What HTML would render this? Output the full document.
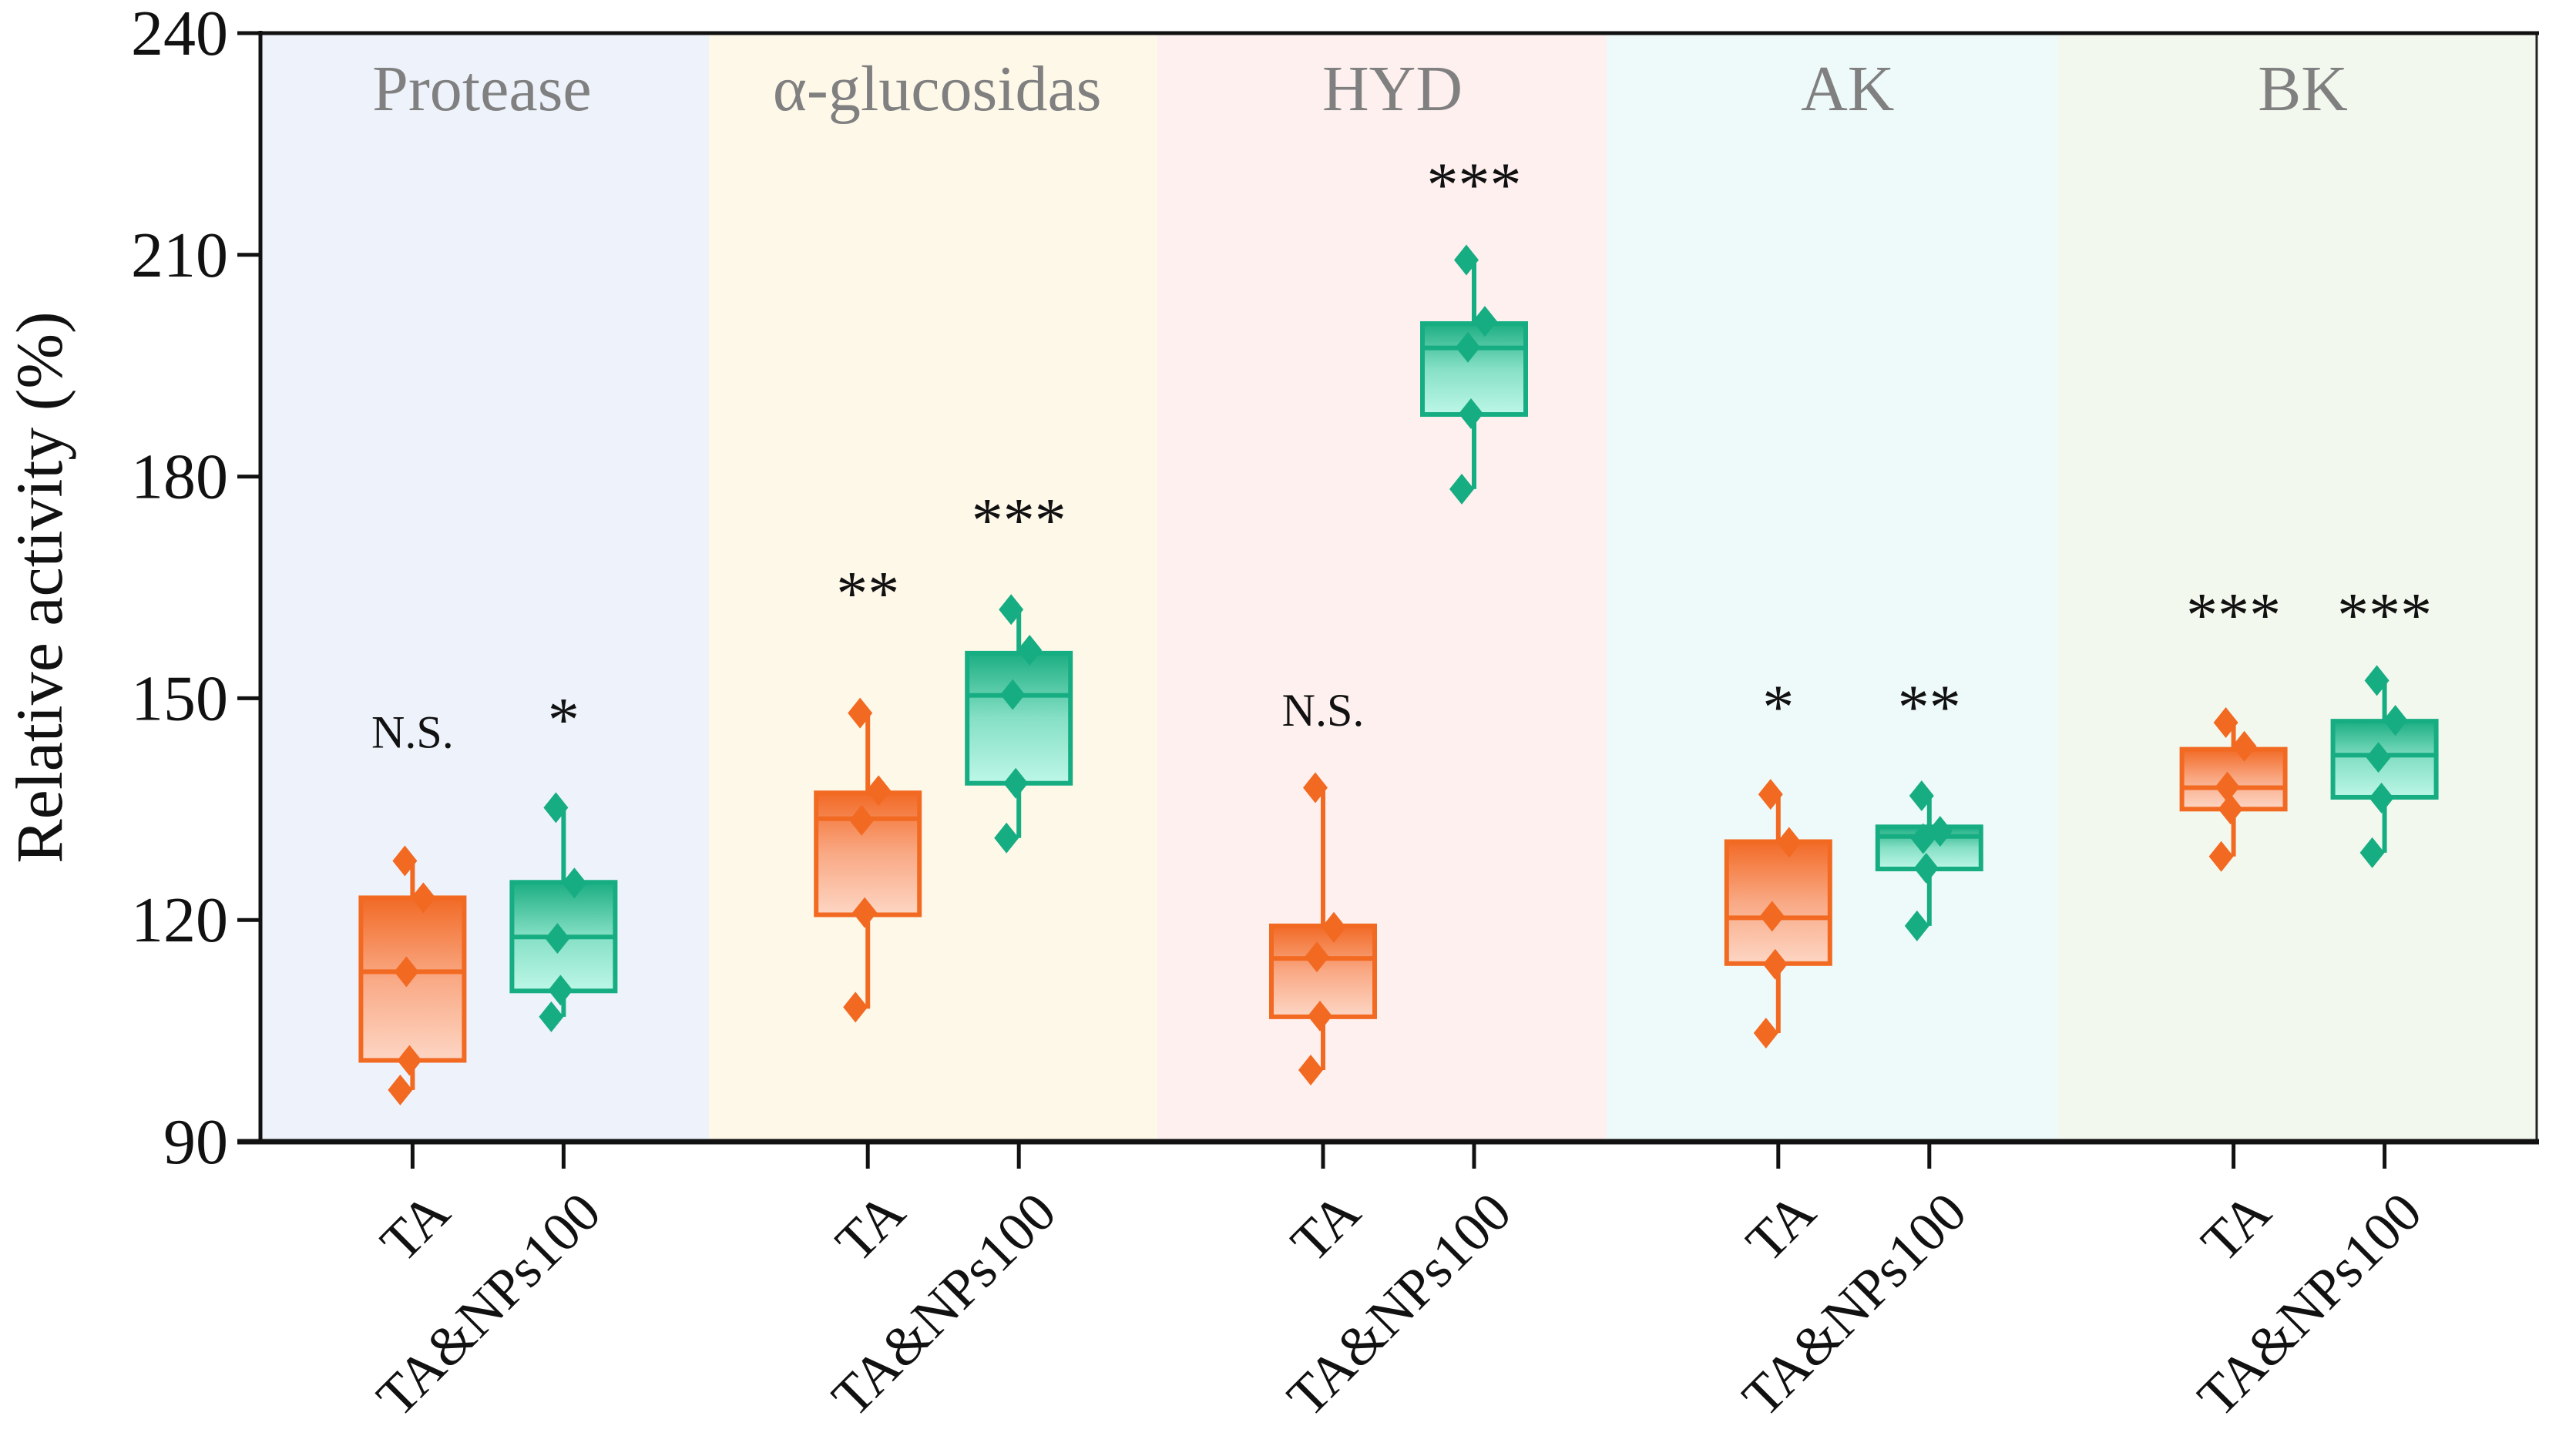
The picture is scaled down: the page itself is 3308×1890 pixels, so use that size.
<!DOCTYPE html>
<html><head><meta charset="utf-8"><style>
html,body{margin:0;padding:0;background:#fff;}
svg{display:block;}
text{font-family:"Liberation Serif","DejaVu Serif",serif;}
</style></head>
<body>
<svg id="chart" width="3308" height="1890" viewBox="0 0 3308 1890" xmlns="http://www.w3.org/2000/svg">
<defs>
<linearGradient id="gOr" x1="0" y1="0" x2="0" y2="1"><stop offset="0" stop-color="#f26a26"/><stop offset="0.5" stop-color="#f9a985"/><stop offset="1" stop-color="#fdd6c4"/></linearGradient>
<linearGradient id="gGr" x1="0" y1="0" x2="0" y2="1"><stop offset="0" stop-color="#1cae82"/><stop offset="0.5" stop-color="#86e0c5"/><stop offset="1" stop-color="#bdf7e7"/></linearGradient>
</defs>
<g id="bands"></g>
<g id="marks"></g>
<g id="axes"></g>
</svg>
<script>
const categories = ["Protease","α-glucosidas","HYD","AK","BK"];
const groups = ["TA","TA&NPs100"];
// [whiskerLow, q1, median, q3, whiskerHigh] per category
const taBox = [[97,101,113,123,128],[108,120.7,133.7,137.2,148],[99.7,106.9,114.8,119.2,138],[104.7,114.1,120.3,130.6,137],[128.6,135,137.9,143.1,146.7]];
const npBox = [[106.9,110.4,117.7,125.1,135.2],[131.1,138.5,150.4,156.1,162],[178.3,188.4,197.4,200.7,209.3],[119.2,126.9,131.3,132.6,136.8],[129.1,136.6,142.3,146.9,152.4]];
const taPts = [[128,123,113,101,97],[148,137.5,133.5,121,108.2],[137.9,119,115,107,99.7],[137,130.5,120.5,114,104.7],[146.7,143.5,138,135,128.6]];
const npPts = [[135.2,125,117.5,110.5,106.9],[162,156.5,150.5,138.5,131.1],[209.3,201,197.5,188.5,178.3],[136.8,132,131,127,119.2],[152.4,147,142,136.5,129.1]];
const taSig = ["N.S.","**","N.S.","*","***"];
const npSig = ["*","***","***","**","***"];
const taSigY = [145.6,164.9,148.6,149.5,162];
const npSigY = [147.8,174.8,220.2,149.5,162];
const yTicks = [90,120,150,180,210,240];

const NS="http://www.w3.org/2000/svg";
const L=338,R=3292,T=43,B=1482,yMin=90,yMax=240;
const y=v=>B-(v-yMin)/(yMax-yMin)*(B-T);
const bandEdges=[338,920,1502,2085,2671,3292];
const slotW=(R-L)/categories.length;
const xC=(i,g)=>L+slotW*(i+0.5)+(g===0?-98:98);
const bandCols=["#eef3fb","#fef8e9","#fdf0ef","#eefaf9","#f3f8ee"];
function mk(tag,attrs,parent){const e=document.createElementNS(NS,tag);for(const k in attrs)e.setAttribute(k,attrs[k]);parent.appendChild(e);return e;}
const bands=document.getElementById('bands'),marks=document.getElementById('marks'),axes=document.getElementById('axes');
categories.forEach((c,i)=>{
  const x0=bandEdges[i],x1=bandEdges[i+1];
  const r=mk('rect',{x:x0,y:T,width:x1-x0,height:B-T,fill:bandCols[i]},bands);
  
  
});
categories.forEach((c,i)=>{
  const t=mk('text',{x:L+slotW*(i+0.5)-8,y:T+100,'text-anchor':'middle','font-size':84,fill:'#808080'},bands);
  t.textContent=c;
  
  
});
const jit=[-10,14,-8,-4,-16];
function drawBox(i,g,box,pts,sig,sigY){
  const col=g===0?"#f26a22":"#17ad82", grad=g===0?"url(#gOr)":"url(#gGr)";
  const cx=xC(i,g), w=134;
  const grp=mk('g',{},marks);
  
  
  mk('line',{x1:cx,x2:cx,y1:y(box[0]),y2:y(box[4]),stroke:col,'stroke-width':6},grp);
  mk('rect',{x:cx-w/2,y:y(box[3]),width:w,height:y(box[1])-y(box[3]),fill:grad,stroke:col,'stroke-width':6},grp);
  mk('line',{x1:cx-w/2,x2:cx+w/2,y1:y(box[2]),y2:y(box[2]),stroke:col,'stroke-width':6},grp);
  pts.forEach((p,k)=>{
    const px=cx+jit[k], py=y(p);
    const d=mk('path',{d:`M${px} ${py-20}L${px+16} ${py}L${px} ${py+20}L${px-16} ${py}Z`,fill:col},grp);
    
    
  });
  const s=mk('text',{x:cx,y:y(sigY)+(sig==="N.S."?22:34),'text-anchor':'middle','font-size':sig==="N.S."?60:82,fill:'#111'},marks);
  s.textContent=sig;
  
  
}
categories.forEach((c,i)=>{drawBox(i,0,taBox[i],taPts[i],taSig[i],taSigY[i]);drawBox(i,1,npBox[i],npPts[i],npSig[i],npSigY[i]);});
mk('rect',{x:L,y:T,width:R-L,height:B-T,fill:'none',stroke:'#222','stroke-width':3},axes);
mk('line',{x1:L,x2:L,y1:T-3,y2:B+3,stroke:'#111','stroke-width':5},axes);
mk('line',{x1:L-30,x2:R+3,y1:B,y2:B,stroke:'#111','stroke-width':7},axes);
mk('line',{x1:L-3,x2:R+3,y1:T,y2:T,stroke:'#111','stroke-width':5},axes);
yTicks.forEach(v=>{
  mk('line',{x1:L-30,x2:L,y1:y(v),y2:y(v),stroke:'#111','stroke-width':5},axes);
  const t=mk('text',{x:L-42,y:y(v)+28,'text-anchor':'end','font-size':84,fill:'#111'},axes);
  t.textContent=v;
  
  
});
categories.forEach((c,i)=>{groups.forEach((gname,g)=>{
  const cx=xC(i,g);
  mk('line',{x1:cx,x2:cx,y1:B,y2:B+35,stroke:'#111','stroke-width':5},axes);
  const tx=cx+52, ty=1578;
  const t=mk('text',{x:tx,y:ty,'text-anchor':'end','font-size':72,fill:'#111',transform:`rotate(-45 ${tx} ${ty})`},axes);
  t.textContent=gname;
  
  
});});
const yt=mk('text',{x:80,y:(T+B)/2,'text-anchor':'middle','font-size':86,fill:'#111',transform:`rotate(-90 80 ${(T+B)/2})`},axes);
yt.textContent="Relative activity (%)";


</script>
</body></html>
